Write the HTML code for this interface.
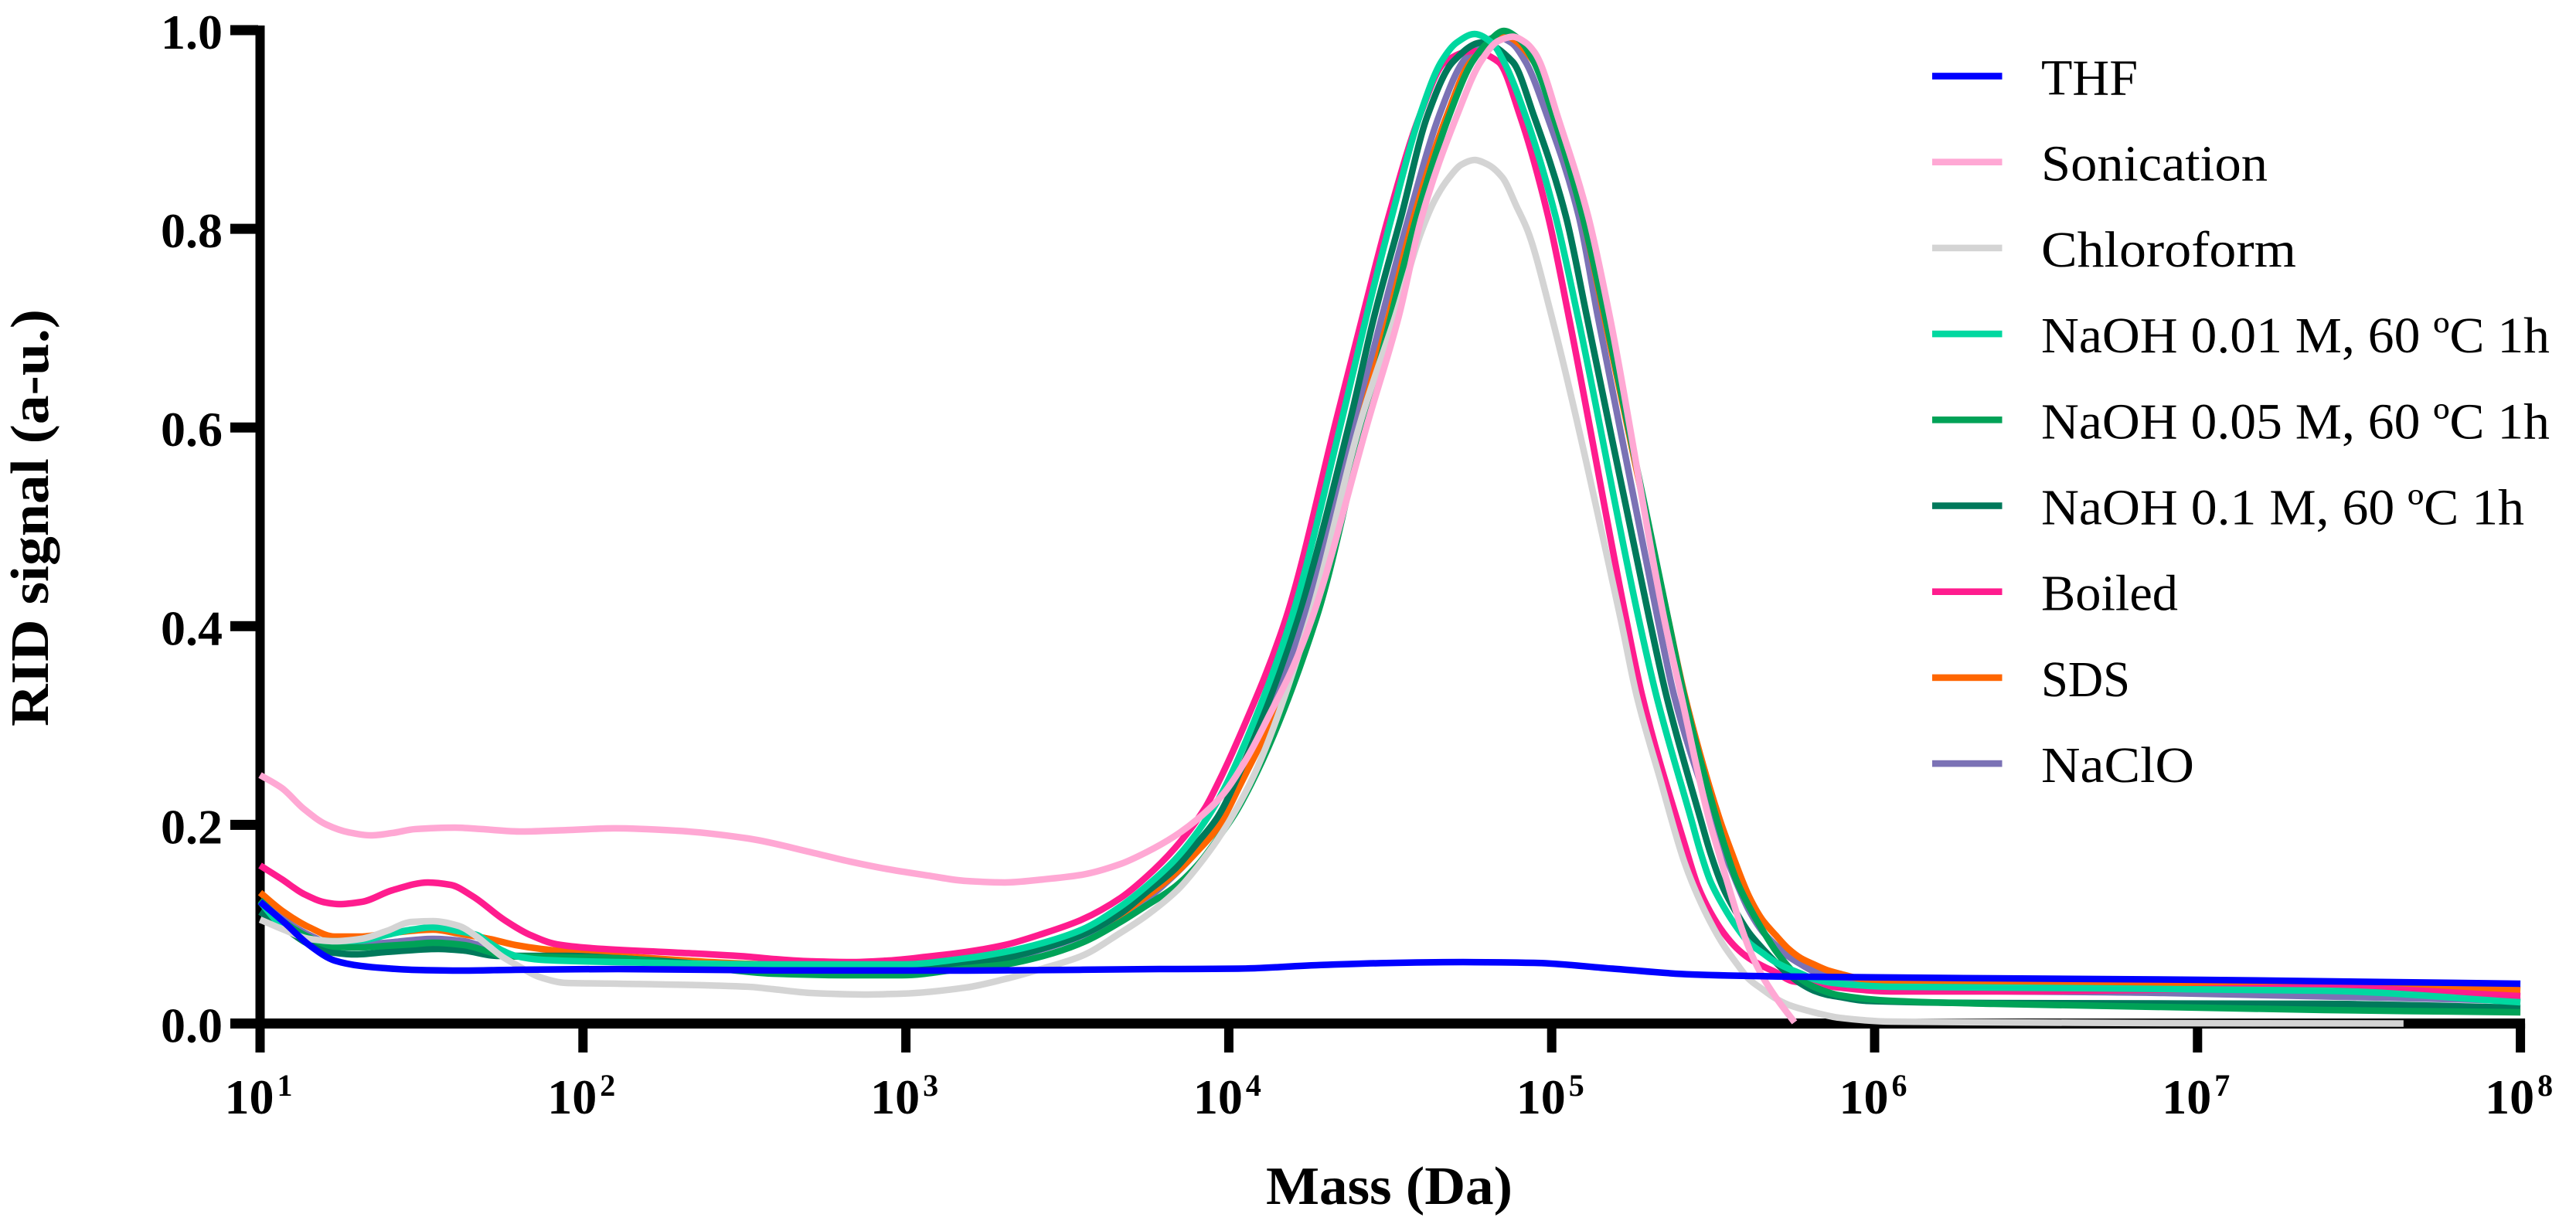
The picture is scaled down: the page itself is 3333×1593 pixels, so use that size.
<!DOCTYPE html>
<html lang="en">
<head>
<meta charset="utf-8">
<title>RID signal vs mass</title>
<style>
html,body{margin:0;padding:0;background:#fff;}
svg{display:block;}
text{font-family:"Liberation Serif",serif;fill:#000;}
.legend-text{font-size:66px;}
.axis-title{font-size:70px;font-weight:bold;}
.tick-label{font-size:64px;font-weight:bold;}
.tick-sup{font-size:40px;font-weight:bold;}
</style>
</head>
<body>
<svg id="chart" xmlns="http://www.w3.org/2000/svg" width="3333" height="1593" viewBox="0 0 3333 1593">
  <rect x="0" y="0" width="3333" height="1593" fill="#ffffff"/>
  <g id="axes"></g>
  <g id="series"></g>

  <text class="axis-title" x="1638" y="1558" textLength="319" lengthAdjust="spacingAndGlyphs">Mass (Da)</text>
  <text class="axis-title" transform="translate(62,940) rotate(-90)" x="0" y="0" textLength="540" lengthAdjust="spacingAndGlyphs">RID signal (a-u.)</text>

  <g>
    <g><rect x="2500" y="94.2" width="90.500" height="8.6" fill="#0000ff"/><text class="legend-text" x="2641" y="122.500" textLength="125" lengthAdjust="spacingAndGlyphs">THF</text></g>
    <g><rect x="2500" y="205.4" width="90.500" height="8.6" fill="#ffa8d4"/><text class="legend-text" x="2641" y="233.700" textLength="293" lengthAdjust="spacingAndGlyphs">Sonication</text></g>
    <g><rect x="2500" y="316.6" width="90.500" height="8.6" fill="#d4d4d4"/><text class="legend-text" x="2641" y="344.900" textLength="330" lengthAdjust="spacingAndGlyphs">Chloroform</text></g>
    <g><rect x="2500" y="427.8" width="90.500" height="8.6" fill="#00d8a0"/><text class="legend-text" x="2641" y="456.100" textLength="658" lengthAdjust="spacingAndGlyphs">NaOH 0.01 M, 60 ºC 1h</text></g>
    <g><rect x="2500" y="539" width="90.500" height="8.6" fill="#00a257"/><text class="legend-text" x="2641" y="567.300" textLength="658" lengthAdjust="spacingAndGlyphs">NaOH 0.05 M, 60 ºC 1h</text></g>
    <g><rect x="2500" y="650.2" width="90.500" height="8.6" fill="#00795b"/><text class="legend-text" x="2641" y="678.500" textLength="625" lengthAdjust="spacingAndGlyphs">NaOH 0.1 M, 60 ºC 1h</text></g>
    <g><rect x="2500" y="761.4" width="90.500" height="8.6" fill="#ff1c8e"/><text class="legend-text" x="2641" y="789.700" textLength="177" lengthAdjust="spacingAndGlyphs">Boiled</text></g>
    <g><rect x="2500" y="872.6" width="90.500" height="8.6" fill="#ff6600"/><text class="legend-text" x="2641" y="900.900" textLength="115" lengthAdjust="spacingAndGlyphs">SDS</text></g>
    <g><rect x="2500" y="983.8" width="90.500" height="8.6" fill="#7b72b5"/><text class="legend-text" x="2641" y="1012.100" textLength="198" lengthAdjust="spacingAndGlyphs">NaClO</text></g>
  </g>
</svg>

<script>
// Tick labels
const yTickValues = [0.0, 0.2, 0.4, 0.6, 0.8, 1.0];
const xTickExponents = [1, 2, 3, 4, 5, 6, 7, 8];

// Series data: log10(mass in Da) and RID signal (a.u.)
const thfLogMass = [1.000,1.073,1.152,1.231,1.312,1.391,1.470,1.631,1.791,2.109,2.588,3.186,3.785,4.029,4.273,4.517,4.725,4.945,5.189,5.433,5.699,6.369,7.015,8.000];
const thfSignal = [.1225,.1023,.0790,.0634,.0580,.0556,.0541,.0533,.0541,.0548,.0535,.0533,.0548,.0552,.0587,.0611,.0618,.0611,.0552,.0494,.0474,.0455,.0440,.0401];

const sonicationLogMass = [1.000,1.068,1.136,1.205,1.274,1.343,1.410,1.480,1.604,1.686,1.810,1.961,2.097,2.291,2.511,2.707,2.827,2.947,3.067,3.186,3.306,3.426,3.545,3.665,3.744,3.832,3.906,3.980,4.059,4.126,4.198,4.258,4.435,4.526,4.598,4.706,4.780,4.835,4.879,4.919,4.946,4.963,5.018,5.113,5.180,5.348,5.401,5.487,5.517,5.557,5.587,5.621,5.652,5.693,5.752];
const sonicationSignal = [.2501,.2369,.2159,.2003,.1925,.1894,.1918,.1957,.1972,.1957,.1933,.1949,.1965,.1941,.1863,.1723,.1630,.1552,.1490,.1435,.1420,.1451,.1497,.1606,.1723,.1886,.2065,.2299,.2688,.3108,.3582,.4080,.6103,.7114,.8125,.9136,.9681,.9892,.9934,.9875,.9781,.9681,.9136,.8125,.7114,.4080,.3302,.2057,.1723,.1280,.0969,.0681,.0478,.0268,.0012];

const chloroformLogMass = [1.000,1.073,1.152,1.231,1.312,1.391,1.470,1.535,1.614,1.671,1.710,1.750,1.791,1.870,1.949,2.109,2.511,2.588,2.707,2.868,2.988,3.186,3.306,3.426,3.545,3.665,3.744,3.845,3.906,3.966,4.029,4.089,4.251,4.412,4.515,4.596,4.639,4.682,4.721,4.761,4.802,4.848,4.891,4.927,4.994,5.213,5.263,5.335,5.412,5.453,5.491,5.532,5.573,5.611,5.652,5.693,5.731,5.812,5.891,6.051,6.369,6.896,7.638];
const chloroformSignal = [.1046,.0945,.0852,.0828,.0852,.0930,.1023,.1031,.0984,.0875,.0774,.0673,.0595,.0463,.0408,.0401,.0370,.0346,.0307,.0292,.0300,.0362,.0447,.0556,.0681,.0914,.1085,.1357,.1590,.1855,.2190,.2579,.4080,.6103,.7114,.7969,.8296,.8514,.8647,.8693,.8647,.8514,.8226,.7969,.7192,.4080,.3302,.2470,.1614,.1280,.1023,.0790,.0603,.0447,.0346,.0253,.0191,.0113,.0058,.0019,.0012,.0004,.0000];

const naoh001LogMass = [1.000,1.073,1.152,1.231,1.312,1.391,1.470,1.535,1.614,1.671,1.710,1.750,1.791,1.870,2.109,2.588,2.988,3.186,3.306,3.426,3.545,3.665,3.744,3.832,3.906,3.966,4.029,4.194,4.352,4.426,4.505,4.591,4.658,4.706,4.761,4.814,4.852,4.919,5.012,5.081,5.269,5.324,5.432,5.461,5.491,5.532,5.573,5.611,5.652,5.693,5.731,5.772,5.812,5.891,6.051,6.369,7.391,8.000];
const naoh001Signal = [.1225,.0968,.0852,.0828,.0836,.0891,.0945,.0968,.0930,.0891,.0813,.0735,.0681,.0642,.0618,.0595,.0595,.0657,.0720,.0813,.0945,.1179,.1381,.1645,.1941,.2244,.2664,.4080,.6103,.7114,.8125,.9136,.9681,.9875,.9961,.9875,.9681,.9136,.8125,.7114,.4080,.3302,.2057,.1723,.1435,.1179,.0969,.0813,.0712,.0618,.0556,.0502,.0447,.0401,.0370,.0362,.0331,.0214];

const naoh005LogMass = [1.000,1.073,1.152,1.231,1.312,1.391,1.470,1.535,1.631,1.710,1.750,1.829,2.109,2.348,2.588,2.827,2.988,3.186,3.306,3.426,3.545,3.665,3.744,3.832,3.906,3.966,4.029,4.271,4.424,4.502,4.582,4.682,4.754,4.802,4.852,4.897,4.945,5.005,5.096,5.166,5.360,5.410,5.511,5.532,5.573,5.611,5.652,5.693,5.731,5.772,5.812,5.891,6.051,6.369,7.391,8.000];
const naoh005Signal = [.1241,.1023,.0867,.0774,.0766,.0782,.0797,.0813,.0790,.0720,.0681,.0673,.0657,.0580,.0502,.0486,.0486,.0556,.0595,.0681,.0813,.1023,.1186,.1373,.1606,.1863,.2167,.4080,.6103,.7114,.8125,.9136,.9681,.9875,.9992,.9914,.9681,.9136,.8125,.7114,.4080,.3302,.2057,.1824,.1435,.1179,.0945,.0735,.0580,.0447,.0369,.0284,.0229,.0198,.0136,.0113];

const naoh01LogMass = [1.000,1.073,1.152,1.231,1.296,1.391,1.552,1.631,1.733,1.949,2.109,2.588,2.827,3.186,3.306,3.426,3.545,3.665,3.744,3.832,3.906,3.966,4.029,4.213,4.378,4.450,4.534,4.615,4.694,4.783,4.879,4.945,5.044,5.109,5.302,5.355,5.461,5.491,5.532,5.573,5.611,5.652,5.693,5.731,5.772,5.812,5.850,5.891,5.970,6.369,7.391,8.000];
const naoh01Signal = [.1124,.0968,.0797,.0712,.0696,.0720,.0751,.0735,.0681,.0681,.0657,.0564,.0556,.0595,.0657,.0758,.0891,.1109,.1319,.1552,.1832,.2081,.2493,.4080,.6103,.7114,.8125,.9136,.9681,.9875,.9681,.9136,.8125,.7114,.4080,.3302,.2057,.1723,.1358,.1109,.0914,.0758,.0618,.0502,.0401,.0331,.0292,.0268,.0229,.0206,.0198,.0159];

const boiledLogMass = [1.000,1.068,1.136,1.205,1.245,1.315,1.410,1.520,1.590,1.659,1.755,1.837,1.920,2.030,2.303,2.511,2.588,2.707,2.827,2.947,3.067,3.186,3.306,3.426,3.545,3.665,3.744,3.832,3.926,3.966,4.029,4.177,4.335,4.414,4.495,4.591,4.670,4.754,4.835,4.902,4.989,5.053,5.230,5.280,5.412,5.453,5.491,5.532,5.573,5.611,5.652,5.693,5.748,5.812,5.891,6.051,6.428,7.391,8.000];
const boiledSignal = [.1591,.1451,.1303,.1217,.1202,.1225,.1342,.1420,.1396,.1280,.1046,.0891,.0797,.0758,.0712,.0673,.0650,.0626,.0618,.0634,.0673,.0720,.0790,.0906,.1046,.1264,.1474,.1762,.2167,.2415,.2859,.4080,.6103,.7114,.8125,.9136,.9681,.9790,.9681,.9136,.8125,.7114,.4080,.3302,.1801,.1381,.1124,.0914,.0758,.0657,.0580,.0517,.0424,.0401,.0362,.0323,.0323,.0362,.0276];

const sdsLogMass = [1.000,1.073,1.152,1.231,1.312,1.391,1.535,1.614,1.710,1.791,1.870,2.109,2.588,2.827,3.186,3.306,3.426,3.545,3.665,3.744,3.832,3.906,3.966,4.029,4.263,4.412,4.495,4.574,4.675,4.749,4.855,4.945,5.005,5.096,5.163,5.360,5.412,5.520,5.557,5.611,5.652,5.693,5.731,5.772,5.812,5.850,5.891,5.970,6.051,6.369,7.391,8.000];
const sdsSignal = [.1318,.1124,.0969,.0875,.0875,.0906,.0945,.0906,.0852,.0790,.0751,.0681,.0595,.0587,.0657,.0720,.0797,.0906,.1100,.1279,.1505,.1746,.1972,.2361,.4080,.6103,.7114,.8125,.9136,.9681,.9937,.9681,.9136,.8125,.7114,.4080,.3302,.2057,.1723,.1280,.1046,.0891,.0758,.0657,.0595,.0541,.0502,.0440,.0408,.0401,.0408,.0338];

const nacloLogMass = [1.000,1.073,1.152,1.231,1.312,1.391,1.535,1.631,1.710,1.791,2.109,2.588,3.186,3.426,3.665,3.832,3.966,4.029,4.233,4.395,4.474,4.558,4.651,4.725,4.778,4.833,4.874,4.919,4.986,5.084,5.143,5.328,5.379,5.499,5.532,5.573,5.611,5.652,5.693,5.731,5.772,5.812,6.051,6.896,8.000];
const nacloSignal = [.1241,.1046,.0891,.0797,.0797,.0813,.0852,.0829,.0751,.0681,.0642,.0564,.0580,.0751,.1070,.1497,.2011,.2407,.4080,.6103,.7114,.8125,.9136,.9681,.9860,.9930,.9875,.9681,.9136,.8125,.7114,.4080,.3302,.2057,.1746,.1412,.1140,.0930,.0790,.0681,.0595,.0525,.0346,.0307,.0229];

// Axis functions
const plotX0 = 336.5, decadeWidth = 417.8, plotY0 = 1324.5, plotHeight = 1285.5;
function xScale(logMass) { return plotX0 + (logMass - 1) * decadeWidth; }
function yScale(signal) { return plotY0 - signal * plotHeight; }

const SVG_NS = 'http://www.w3.org/2000/svg';
const axesGroup = document.getElementById('axes');
const seriesGroup = document.getElementById('series');

function axisRect(x, y, w, h) {
  const r = document.createElementNS(SVG_NS, 'rect');
  r.setAttribute('x', x);
  r.setAttribute('y', y);
  r.setAttribute('width', w);
  r.setAttribute('height', h);
  r.setAttribute('fill', '#000');
  return r;
}

// Axis lines
const yAxisLine = axisRect(xScale(1) - 6, yScale(1) - 6, 12, 1362 - (yScale(1) - 6));


axesGroup.appendChild(yAxisLine);

const xAxisLine = axisRect(298, yScale(0) - 6.5, xScale(8) + 6 - 298, 13);


axesGroup.appendChild(xAxisLine);

// Y ticks
yTickValues.forEach(function (v) {
  const tick = axisRect(298, yScale(v) - 6.5, 36, 13);
  
  
  axesGroup.appendChild(tick);
  const label = document.createElementNS(SVG_NS, 'text');
  
  
  label.setAttribute('class', 'tick-label');
  label.setAttribute('x', 288);
  label.setAttribute('y', yScale(v) + 24);
  label.setAttribute('text-anchor', 'end');
  label.textContent = v.toFixed(1);
  axesGroup.appendChild(label);
});

// X ticks
xTickExponents.forEach(function (e) {
  const tick = axisRect(xScale(e) - 6, yScale(0), 12, 1362 - yScale(0));
  
  
  axesGroup.appendChild(tick);
  const label = document.createElementNS(SVG_NS, 'text');
  
  
  label.setAttribute('class', 'tick-label');
  label.setAttribute('x', xScale(e) - 46);
  label.setAttribute('y', 1441);
  label.appendChild(document.createTextNode('10'));
  const sup = document.createElementNS(SVG_NS, 'tspan');
  sup.setAttribute('class', 'tick-sup');
  sup.setAttribute('dx', '4');
  sup.setAttribute('dy', '-23');
  sup.textContent = String(e);
  label.appendChild(sup);
  axesGroup.appendChild(label);
});

// Monotone cubic path through points (pixel space derived from data)
function smoothPath(xs, ys) {
  const n = xs.length;
  const d = [], m = [];
  for (let i = 0; i < n - 1; i++) d.push((ys[i + 1] - ys[i]) / (xs[i + 1] - xs[i]));
  m.push(d[0]);
  for (let i = 1; i < n - 1; i++) {
    if (d[i - 1] * d[i] <= 0) { m.push(0); continue; }
    const h0 = xs[i] - xs[i - 1], h1 = xs[i + 1] - xs[i];
    const w1 = 2 * h1 + h0, w2 = h1 + 2 * h0;
    m.push((w1 + w2) / (w1 / d[i - 1] + w2 / d[i]));
  }
  m.push(d[n - 2]);
  let p = 'M' + xs[0].toFixed(2) + ' ' + ys[0].toFixed(2);
  for (let i = 0; i < n - 1; i++) {
    const h = (xs[i + 1] - xs[i]) / 3;
    p += 'C' + (xs[i] + h).toFixed(2) + ' ' + (ys[i] + m[i] * h).toFixed(2) + ' ' +
         (xs[i + 1] - h).toFixed(2) + ' ' + (ys[i + 1] - m[i + 1] * h).toFixed(2) + ' ' +
         xs[i + 1].toFixed(2) + ' ' + ys[i + 1].toFixed(2);
  }
  return p;
}

function drawSeries(name, color, logMass, signal) {
  const path = document.createElementNS(SVG_NS, 'path');
  
  
  path.setAttribute('d', smoothPath(logMass.map(xScale), signal.map(yScale)));
  path.setAttribute('fill', 'none');
  path.setAttribute('stroke', color);
  path.setAttribute('stroke-width', '8.5');
  path.setAttribute('stroke-linejoin', 'round');
  seriesGroup.appendChild(path);
}

// Painted back to front, as in the original figure
drawSeries('series-naclo', '#7b72b5', nacloLogMass, nacloSignal);
drawSeries('series-sds', '#ff6600', sdsLogMass, sdsSignal);
drawSeries('series-boiled', '#ff1c8e', boiledLogMass, boiledSignal);
drawSeries('series-naoh-01', '#00795b', naoh01LogMass, naoh01Signal);
drawSeries('series-naoh-005', '#00a257', naoh005LogMass, naoh005Signal);
drawSeries('series-naoh-001', '#00d8a0', naoh001LogMass, naoh001Signal);
drawSeries('series-chloroform', '#d4d4d4', chloroformLogMass, chloroformSignal);
drawSeries('series-sonication', '#ffa8d4', sonicationLogMass, sonicationSignal);
drawSeries('series-thf', '#0000ff', thfLogMass, thfSignal);
</script>
</body>
</html>
